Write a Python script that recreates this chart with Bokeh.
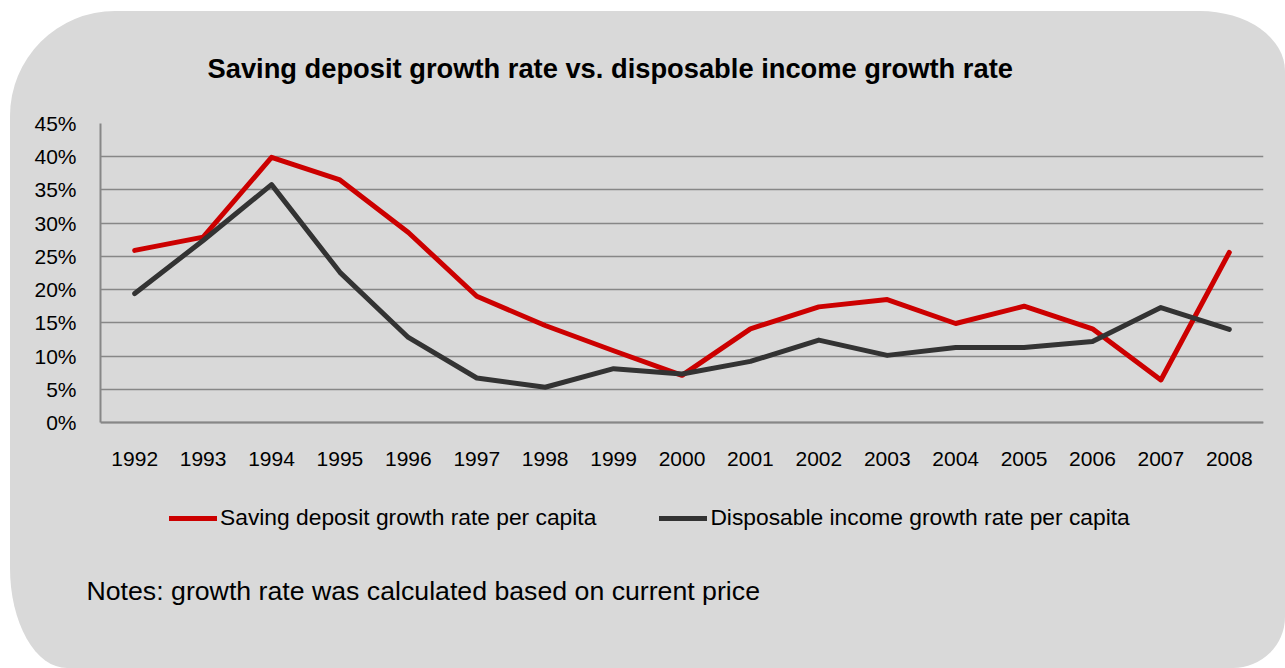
from bokeh.plotting import figure
from bokeh.models import (Range1d, FixedTicker, PrintfTickFormatter, Title,
                          Legend, LegendItem)
from bokeh.embed import file_html
from bokeh.resources import INLINE

years = ["1992", "1993", "1994", "1995", "1996", "1997", "1998", "1999", "2000",
         "2001", "2002", "2003", "2004", "2005", "2006", "2007", "2008"]
saving = [25.9, 27.9, 39.9, 36.5, 28.6, 19.0, 14.6, 10.8, 7.1,
          14.1, 17.4, 18.5, 14.9, 17.5, 14.1, 6.4, 25.6]
income = [19.4, 27.4, 35.8, 22.6, 12.8, 6.7, 5.3, 8.1, 7.3,
          9.2, 12.4, 10.1, 11.3, 11.3, 12.2, 17.3, 14.0]
y_ticks = [0, 5, 10, 15, 20, 25, 30, 35, 40, 45]

title_text = "Saving deposit growth rate vs. disposable income growth rate"
saving_name = "Saving deposit growth rate per capita"
income_name = "Disposable income growth rate per capita"
note_text = "Notes: growth rate was calculated based on current price"

FONT = "Liberation Sans"
BG = "#d9d9d9"
GRID = "#878787"

# frame spans chart + legend row; y axis limited to 0..45 with bounds
p = figure(x_range=years, y_range=Range1d(-20.77, 45), width=1275, height=657,
           output_backend="svg", toolbar_location=None,
           min_border_left=90, min_border_right=22, min_border_top=112,
           min_border_bottom=108)
p.styles = {"border-radius": "105px 85px 52px 57px / 105px 60px 51px 100px",
            "overflow": "hidden", "margin-left": "10px", "margin-top": "11px",
            "background-color": BG}
p.background_fill_color = None
p.border_fill_color = None
p.outline_line_color = None

p.title.text = title_text
p.title.align = "left"
p.title.offset = 107
p.title.standoff = 79
p.title.text_font = FONT
p.title.text_font_size = "27.3px"
p.title.text_font_style = "bold"
p.title.text_color = "#000000"

r1 = p.line(years, saving, line_color="#cc0000", line_width=5,
            line_join="round", line_cap="round")
r2 = p.line(years, income, line_color="#333333", line_width=5,
            line_join="round", line_cap="round")

p.xgrid.grid_line_color = None
p.ygrid.grid_line_color = GRID
p.ygrid.grid_line_width = 1.6
p.yaxis.ticker = FixedTicker(ticks=y_ticks)
p.yaxis.formatter = PrintfTickFormatter(format="%d%%")
p.yaxis.bounds = (0, 45)
p.xaxis.fixed_location = 0

for ax in (p.xaxis[0], p.yaxis[0]):
    ax.axis_line_color = GRID
    ax.axis_line_width = 2
    ax.major_tick_line_color = None
    ax.minor_tick_line_color = None
    ax.major_tick_in = 0
    ax.major_tick_out = 0
    ax.major_label_text_font = FONT
    ax.major_label_text_font_size = "21px"
    ax.major_label_text_color = "#000000"
p.yaxis.major_label_standoff = 24
p.xaxis.major_label_standoff = 30

legend = Legend(items=[LegendItem(label=saving_name, renderers=[r1]),
                       LegendItem(label=income_name, renderers=[r2])],
                orientation="horizontal", location=(69, 29),
                glyph_width=48, glyph_height=22, label_height=22,
                label_standoff=3, spacing=63, padding=0, margin=0,
                border_line_color=None, background_fill_alpha=0,
                label_text_font=FONT, label_text_font_size="22.8px",
                label_text_color="#000000")
p.add_layout(legend, "center")

p.add_layout(Title(text=note_text, align="left", offset=-14, standoff=26,
                   text_font=FONT, text_font_size="26.7px",
                   text_font_style="normal", text_color="#000000"), "below")

open("out.html", "w").write(file_html(p, INLINE))
